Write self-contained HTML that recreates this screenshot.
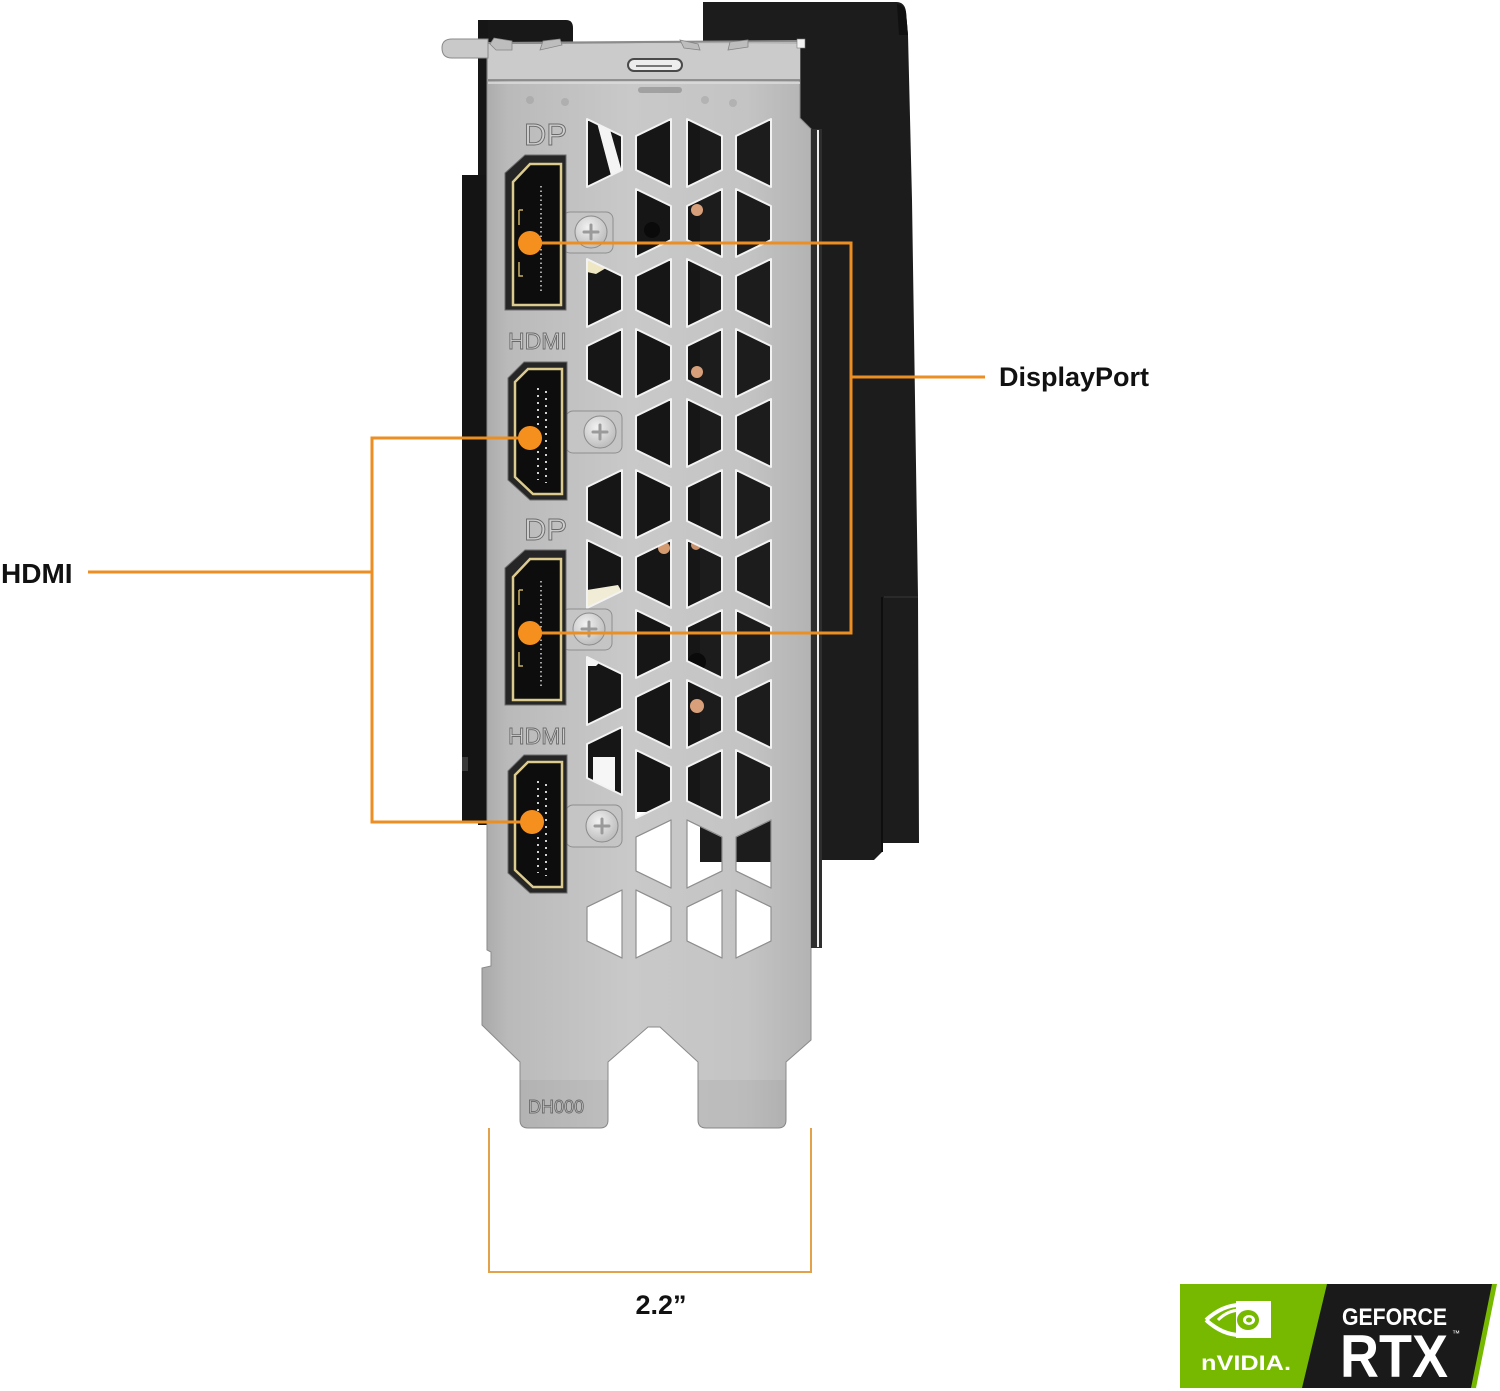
<!DOCTYPE html>
<html>
<head>
<meta charset="utf-8">
<style>
html,body{margin:0;padding:0;background:#fff;}
svg{display:block}
.lbl{font-family:"Liberation Sans",sans-serif;font-weight:bold;fill:#111}
.eng{font-family:"Liberation Sans",sans-serif;fill:#cdcdcd;stroke:#6a6a6a;stroke-width:0.9}
</style>
</head>
<body>
<svg width="1500" height="1391" viewBox="0 0 1500 1391" xmlns="http://www.w3.org/2000/svg">
<defs>
  <linearGradient id="plate" gradientUnits="userSpaceOnUse" x1="482" y1="0" x2="812" y2="0">
    <stop offset="0" stop-color="#a9a9a9"/>
    <stop offset="0.08" stop-color="#bababa"/>
    <stop offset="0.45" stop-color="#c9c9c9"/>
    <stop offset="0.8" stop-color="#c4c4c4"/>
    <stop offset="1" stop-color="#b3b3b3"/>
  </linearGradient>
  <radialGradient id="screw" cx="0.4" cy="0.35" r="0.7">
    <stop offset="0" stop-color="#f2f2f2"/>
    <stop offset="1" stop-color="#b9b9b9"/>
  </radialGradient>
</defs>

<rect x="0" y="0" width="1500" height="1391" fill="#ffffff"/>

<!-- black card piece top-left -->
<path d="M478 20 L566 20 Q573 20 573 28 L573 60 L478 60 Z" fill="#181818"/>
<rect x="478" y="20" width="10" height="805" fill="#161616"/>
<rect x="462" y="175" width="26" height="648" fill="#141414"/>
<rect x="462" y="757" width="6" height="14" fill="#3a3a3a"/>

<!-- shroud -->
<path d="M703 2 L896 2 Q905 2 906 12 L908 35 L912 200 L918 597 L919 843 L882 843 L882 852 L874 860 L703 860 Z" fill="#1c1c1c"/>
<path d="M897 4 Q904 5 906 12 L908 35 L899 35 Z" fill="#101010"/>
<line x1="882" y1="597" x2="882" y2="852" stroke="#0e0e0e" stroke-width="2"/>
<line x1="884" y1="597" x2="918" y2="597" stroke="#2a2a2a" stroke-width="2"/>

<!-- dark stuff behind vents -->
<rect x="560" y="95" width="150" height="717" fill="#161616"/>
<rect x="700" y="95" width="122" height="767" fill="#1c1c1c"/>

<!-- light patches seen through col1 holes -->
<path d="M596 119 L607 119 L622 172 L622 187 L614 187 Z" fill="#f4f4f4"/>
<path d="M587 259 L606 268 L596 274 L587 272 Z" fill="#efe7c4"/>
<path d="M587 590 L618 585 L622 592 L587 608 Z" fill="#f1ecd6"/>
<path d="M587 657 L602 660 L596 666 L587 666 Z" fill="#f4f4f4"/>
<rect x="593" y="757" width="22" height="36" fill="#f6f6f6"/>
<circle cx="697" cy="210" r="6" fill="#d8a07a"/>
<circle cx="697" cy="372" r="6" fill="#d8a07a"/>
<circle cx="664" cy="548" r="6" fill="#d49a70"/>
<circle cx="696" cy="545" r="5" fill="#c9906a"/>
<circle cx="697" cy="706" r="7" fill="#d8a07a"/>
<circle cx="652" cy="230" r="8" fill="#0a0a0a"/>
<circle cx="697" cy="662" r="9" fill="#0a0a0a"/>

<!-- bracket plate with vent holes -->
<path fill="url(#plate)" fill-rule="evenodd" stroke="#8a8a8a" stroke-width="1" d="
M487 44 L800 41 L800 118 L811 129 L811 1040 L786 1062 L786 1120 Q786 1128 778 1128 L706 1128 Q698 1128 698 1120 L698 1062 L660 1027 L648 1027 L608 1062 L608 1120 Q608 1128 600 1128 L528 1128 Q520 1128 520 1120 L520 1062 L482 1025 L482 968 L491 966 L491 952 L487 950 Z
M587 119L622 136L622 170L587 187Z M636 136L671 119L671 187L636 170Z M687 119L722 136L722 170L687 187Z M736 136L771 119L771 187L736 170Z
M636 189L671 206L671 240L636 257Z M687 206L722 189L722 257L687 240Z M736 189L771 206L771 240L736 257Z
M587 259L622 276L622 310L587 327Z M636 276L671 259L671 327L636 310Z M687 259L722 276L722 310L687 327Z M736 276L771 259L771 327L736 310Z
M587 346L622 329L622 397L587 380Z M636 329L671 346L671 380L636 397Z M687 346L722 329L722 397L687 380Z M736 329L771 346L771 380L736 397Z
M636 416L671 399L671 467L636 450Z M687 399L722 416L722 450L687 467Z M736 416L771 399L771 467L736 450Z
M587 487L622 470L622 538L587 521Z M636 470L671 487L671 521L636 538Z M687 487L722 470L722 538L687 521Z M736 470L771 487L771 521L736 538Z
M587 540L622 557L622 591L587 608Z M636 557L671 540L671 608L636 591Z M687 540L722 557L722 591L687 608Z M736 557L771 540L771 608L736 591Z
M636 610L671 627L671 661L636 678Z M687 627L722 610L722 678L687 661Z M736 610L771 627L771 661L736 678Z
M636 697L671 680L671 748L636 731Z M687 680L722 697L722 731L687 748Z M736 697L771 680L771 748L736 731Z
M636 750L671 767L671 801L636 818Z M687 767L722 750L722 818L687 801Z M736 750L771 767L771 801L736 818Z
M636 837L671 820L671 888L636 871Z M687 820L722 837L722 871L687 888Z M736 837L771 820L771 888L736 871Z
M587 907L622 890L622 958L587 941Z M636 890L671 907L671 941L636 958Z M687 907L722 890L722 958L687 941Z M736 890L771 907L771 941L736 958Z
M587 657L622 674L622 708L587 725Z M587 744L622 727L622 795L587 778Z
"/>
<path fill="none" stroke="#f3f3f3" stroke-width="2" stroke-linejoin="round" d="
M587 119L622 136L622 170L587 187Z M636 136L671 119L671 187L636 170Z M687 119L722 136L722 170L687 187Z M736 136L771 119L771 187L736 170Z
M636 189L671 206L671 240L636 257Z M687 206L722 189L722 257L687 240Z M736 189L771 206L771 240L736 257Z
M587 259L622 276L622 310L587 327Z M636 276L671 259L671 327L636 310Z M687 259L722 276L722 310L687 327Z M736 276L771 259L771 327L736 310Z
M587 346L622 329L622 397L587 380Z M636 329L671 346L671 380L636 397Z M687 346L722 329L722 397L687 380Z M736 329L771 346L771 380L736 397Z
M636 416L671 399L671 467L636 450Z M687 399L722 416L722 450L687 467Z M736 416L771 399L771 467L736 450Z
M587 487L622 470L622 538L587 521Z M636 470L671 487L671 521L636 538Z M687 487L722 470L722 538L687 521Z M736 470L771 487L771 521L736 538Z
M587 540L622 557L622 591L587 608Z M636 557L671 540L671 608L636 591Z M687 540L722 557L722 591L687 608Z M736 557L771 540L771 608L736 591Z
M636 610L671 627L671 661L636 678Z M687 627L722 610L722 678L687 661Z M736 610L771 627L771 661L736 678Z
M636 697L671 680L671 748L636 731Z M687 680L722 697L722 731L687 748Z M736 697L771 680L771 748L736 731Z
M636 750L671 767L671 801L636 818Z M687 767L722 750L722 818L687 801Z M736 750L771 767L771 801L736 818Z
M587 657L622 674L622 708L587 725Z M587 744L622 727L622 795L587 778Z
"/>
<path fill="none" stroke="#8f8f8f" stroke-width="1.2" stroke-linejoin="round" d="
M636 837L671 820L671 888L636 871Z M687 820L722 837L722 871L687 888Z M736 837L771 820L771 888L736 871Z
M587 907L622 890L622 958L587 941Z M636 890L671 907L671 941L636 958Z M687 907L722 890L722 958L687 941Z M736 890L771 907L771 941L736 958Z
"/>

<path d="M520 1080 L608 1080 L608 1120 Q608 1128 600 1128 L528 1128 Q520 1128 520 1120 Z" fill="#000" opacity="0.045"/>
<path d="M698 1080 L786 1080 L786 1120 Q786 1128 778 1128 L706 1128 Q698 1128 698 1120 Z" fill="#000" opacity="0.045"/>

<!-- top fold band -->
<rect x="488" y="44" width="312" height="36" fill="#cbcbcb"/>
<line x1="487" y1="43" x2="800" y2="41" stroke="#8c8c8c" stroke-width="2"/>
<line x1="488" y1="80" x2="800" y2="80" stroke="#7c7c7c" stroke-width="1.5"/>
<line x1="488" y1="83" x2="800" y2="83" stroke="#dedede" stroke-width="1.5"/>
<path d="M490 44 L494 38 L512 41 L512 50 L496 50 Z" fill="#bdbdbd" stroke="#858585" stroke-width="0.8"/>
<path d="M540 50 L543 41 L560 39 L562 45 Z" fill="#bdbdbd" stroke="#858585" stroke-width="0.8"/>
<path d="M680 40 L698 44 L700 50 L684 48 Z" fill="#bdbdbd" stroke="#858585" stroke-width="0.8"/>
<path d="M728 50 L730 42 L748 40 L748 47 Z" fill="#bdbdbd" stroke="#858585" stroke-width="0.8"/>
<rect x="797" y="39" width="8" height="9" fill="#f2f2f2" stroke="#777" stroke-width="0.6"/>
<path d="M488 39 L452 39 Q442 39 442 48 Q442 58 452 58 L488 58 Z" fill="#c9c9c9" stroke="#8a8a8a" stroke-width="1"/>
<rect x="628" y="59" width="54" height="12" rx="6" fill="#ededed" stroke="#4a4a4a" stroke-width="2"/>
<line x1="636" y1="66" x2="672" y2="66" stroke="#777" stroke-width="2"/>
<rect x="638" y="87" width="44" height="6" rx="3" fill="#7a7a7a" opacity="0.5"/>
<ellipse cx="530" cy="100" rx="4" ry="4" fill="#888" opacity="0.3"/>
<ellipse cx="565" cy="102" rx="4" ry="4" fill="#888" opacity="0.3"/>
<ellipse cx="705" cy="100" rx="4" ry="4" fill="#888" opacity="0.3"/>
<ellipse cx="733" cy="103" rx="4" ry="4" fill="#888" opacity="0.3"/>

<!-- right bent edge strip -->
<path d="M811 129 L822 129 L822 948 L811 948 Z" fill="#2e2e2e"/>
<line x1="818" y1="130" x2="818" y2="947" stroke="#f0f0f0" stroke-width="2"/>

<!-- screw bosses -->
<rect x="563" y="212" width="50" height="41" rx="7" fill="#c5c5c5" stroke="#8e8e8e" stroke-width="1"/>
<rect x="566" y="411" width="56" height="42" rx="7" fill="#c5c5c5" stroke="#8e8e8e" stroke-width="1"/>
<rect x="562" y="609" width="50" height="41" rx="7" fill="#c5c5c5" stroke="#8e8e8e" stroke-width="1"/>
<rect x="566" y="805" width="56" height="42" rx="7" fill="#c5c5c5" stroke="#8e8e8e" stroke-width="1"/>

<!-- DP1 -->
<path d="M505 173 L525 155 L566 155 L566 310 L505 310 Z" fill="#262626" stroke="#6c6c6c" stroke-width="1"/>
<path d="M513 182 L530 164 L561 164 L561 305 L513 305 Z" fill="#0d0d0d" stroke="#dccb8e" stroke-width="2.5"/>
<line x1="541" y1="186" x2="541" y2="292" stroke="#d6d6d6" stroke-width="1.5" stroke-dasharray="1.5 3"/>
<path d="M519 210 L523 210 M519 210 L519 225 M519 262 L519 276 L523 276" stroke="#c8b060" stroke-width="1.5" fill="none"/>
<!-- DP2 -->
<path d="M505 568 L525 550 L566 550 L566 705 L505 705 Z" fill="#262626" stroke="#6c6c6c" stroke-width="1"/>
<path d="M513 577 L530 559 L561 559 L561 700 L513 700 Z" fill="#0d0d0d" stroke="#dccb8e" stroke-width="2.5"/>
<line x1="541" y1="581" x2="541" y2="687" stroke="#d6d6d6" stroke-width="1.5" stroke-dasharray="1.5 3"/>
<path d="M519 590 L523 590 M519 590 L519 605 M519 652 L519 666 L523 666" stroke="#c8b060" stroke-width="1.5" fill="none"/>
<!-- HDMI1 -->
<path d="M508 378 L524 362 L567 362 L567 500 L530 500 L508 480 Z" fill="#262626" stroke="#6c6c6c" stroke-width="1"/>
<path d="M515 382 L528 369 L562 369 L562 494 L533 494 L515 477 Z" fill="#0d0d0d" stroke="#dccb8e" stroke-width="2.5"/>
<line x1="538" y1="388" x2="538" y2="480" stroke="#d0d0d0" stroke-width="2" stroke-dasharray="2 5"/>
<line x1="546" y1="391" x2="546" y2="483" stroke="#d0d0d0" stroke-width="2" stroke-dasharray="2 5"/>
<!-- HDMI2 -->
<path d="M508 771 L524 755 L567 755 L567 893 L530 893 L508 873 Z" fill="#262626" stroke="#6c6c6c" stroke-width="1"/>
<path d="M515 775 L528 762 L562 762 L562 887 L533 887 L515 870 Z" fill="#0d0d0d" stroke="#dccb8e" stroke-width="2.5"/>
<line x1="538" y1="781" x2="538" y2="873" stroke="#d0d0d0" stroke-width="2" stroke-dasharray="2 5"/>
<line x1="546" y1="784" x2="546" y2="876" stroke="#d0d0d0" stroke-width="2" stroke-dasharray="2 5"/>

<!-- engraved labels -->
<text class="eng" x="524" y="145" font-size="31">DP</text>
<text class="eng" x="508" y="349" font-size="23">HDMI</text>
<text class="eng" x="524" y="540" font-size="31">DP</text>
<text class="eng" x="508" y="744" font-size="23">HDMI</text>
<text class="eng" x="528" y="1113" font-size="18">DH000</text>

<!-- screws -->
<g stroke="#8a8a8a" stroke-width="1">
  <circle cx="591" cy="232" r="16" fill="url(#screw)"/>
  <circle cx="600" cy="432" r="16" fill="url(#screw)"/>
  <circle cx="589" cy="629" r="16" fill="url(#screw)"/>
  <circle cx="602" cy="826" r="16" fill="url(#screw)"/>
</g>
<g stroke="#9a9a9a" stroke-width="3" stroke-linecap="round" fill="none">
  <path d="M584 232 L598 232 M591 225 L591 239"/>
  <path d="M593 432 L607 432 M600 425 L600 439"/>
  <path d="M582 629 L596 629 M589 622 L589 636"/>
  <path d="M595 826 L609 826 M602 819 L602 833"/>
</g>

<!-- orange callouts -->
<g fill="none" stroke="#EC8E22" stroke-width="3">
  <polyline points="530,243 851,243 851,633 530,633"/>
  <line x1="851" y1="377" x2="985" y2="377"/>
  <polyline points="530,438 372,438 372,822 532,822"/>
  <line x1="372" y1="572" x2="88" y2="572"/>
</g>
<g fill="#F5901E">
  <circle cx="530" cy="243" r="12"/>
  <circle cx="530" cy="438" r="12"/>
  <circle cx="530" cy="633" r="12"/>
  <circle cx="532" cy="822" r="12"/>
</g>
<text class="lbl" x="999" y="386" font-size="27">DisplayPort</text>
<text class="lbl" x="1" y="583" font-size="28">HDMI</text>

<!-- dimension -->
<g fill="none" stroke="#E3A24A" stroke-width="2">
  <polyline points="489,1128 489,1272 811,1272 811,1128"/>
</g>
<text class="lbl" x="661" y="1314" font-size="27" text-anchor="middle">2.2”</text>

<!-- NVIDIA GeForce RTX logo -->
<path d="M1180 1284 L1497 1284 L1476 1388 L1180 1388 Z" fill="#76b900"/>
<path d="M1327 1284 L1492 1284 L1471 1388 L1302 1388 Z" fill="#1a1a1a"/>
<rect x="1236" y="1301" width="35" height="37" fill="#ffffff"/>
<path d="M1206 1320 Q1230 1298 1258 1308" fill="none" stroke="#fff" stroke-width="4"/>
<path d="M1206 1320 Q1230 1342 1258 1332" fill="none" stroke="#fff" stroke-width="4"/>
<path d="M1218 1320 Q1232 1306 1250 1312" fill="none" stroke="#fff" stroke-width="3"/>
<ellipse cx="1248" cy="1320" rx="11" ry="10" fill="#76b900"/>
<ellipse cx="1249" cy="1320" rx="6" ry="5" fill="#fff"/>
<ellipse cx="1249" cy="1320" rx="3" ry="2.5" fill="#76b900"/>
<text x="1201" y="1370" font-family="Liberation Sans, sans-serif" font-weight="bold" font-size="21" fill="#fff" textLength="90" lengthAdjust="spacingAndGlyphs">nVIDIA.</text>
<text x="1342" y="1325" font-family="Liberation Sans, sans-serif" font-weight="bold" font-size="24" fill="#fff" textLength="105" lengthAdjust="spacingAndGlyphs">GEFORCE</text>
<text x="1340" y="1377" font-family="Liberation Sans, sans-serif" font-weight="bold" font-size="60" fill="#fff" textLength="108" lengthAdjust="spacingAndGlyphs">RTX</text>
<text x="1452" y="1336" font-family="Liberation Sans, sans-serif" font-size="8" fill="#fff">™</text>
</svg>
</body>
</html>
